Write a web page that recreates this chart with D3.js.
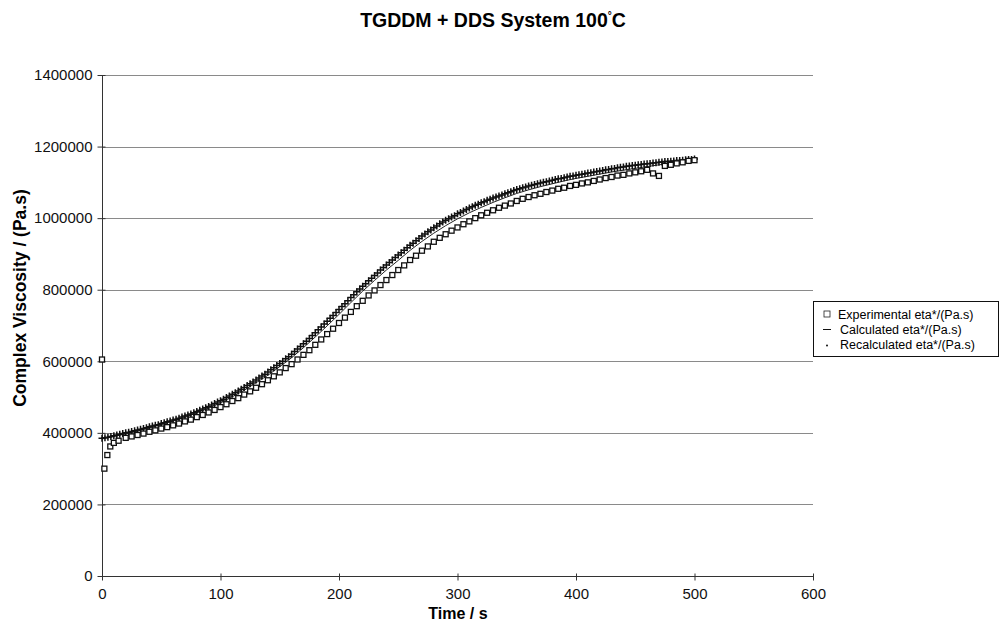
<html>
<head><meta charset="utf-8"/></head>
<script src='https://d3js.org/d3.v7.min.js'></script>
<style>
	body {margin: 0; background: #fff;}
	text {font-family: "Liberation Sans", Arial, sans-serif;}
	.grid line {stroke: #8a8a8a; stroke-width: 1;}
	.axis path, .axis line {stroke: #333;}
	.axis text {font-size: 15px; fill: #111;}
</style>
<body>
<svg width=1002 height=633></svg>
<script>

// experimental eta* (Pa.s)
var expTime = [0, 2, 4.5, 7, 10, 14].concat(d3.range(20, 501, 5));
var expEta = [605000, 300000, 338000, 362000, 372000, 378000,
	386000, 390000, 394000, 398000, 403000, 407000, 412000, 416000, 421000, 426000,
	432000, 437000, 444000, 450000, 457000, 464000, 472000, 480000, 489000, 497000,
	507000, 516000, 526000, 536000, 547000, 558000, 569000, 581000, 592000, 605000,
	618000, 631000, 646000, 661000, 676000, 691000, 707000, 722000, 738000, 754000,
	769000, 784000, 798000, 813000, 827000, 841000, 855000, 868000, 883000, 895000,
	909000, 921000, 934000, 945000, 955000, 965000, 974000, 983000, 991000, 1000000,
	1008000, 1015000, 1022000, 1029000, 1035000, 1041000, 1048000, 1054000, 1059000, 1064000,
	1068000, 1073000, 1077000, 1082000, 1085000, 1090000, 1093000, 1097000, 1100000, 1104000,
	1108000, 1112000, 1115000, 1119000, 1121000, 1125000, 1128000, 1131000, 1135000, 1125000,
	1118000, 1146000, 1149000, 1153000, 1156000, 1160000, 1162000];

// calculated eta* (line)
var calcTime = d3.range(0, 501, 10);
var calcEta = [383000, 390000, 397000, 405000, 414000, 423000, 433000, 443000, 456000, 469000,
	484000, 501000, 519000, 540000, 561000, 585000, 610000, 638000, 668000, 699000,
	731000, 764000, 796000, 826000, 855000, 882000, 910000, 935000, 958000, 979000,
	998000, 1015000, 1030000, 1044000, 1057000, 1069000, 1079000, 1088000, 1096000, 1104000,
	1111000, 1117000, 1123000, 1129000, 1134000, 1139000, 1144000, 1149000, 1153000, 1158000,
	1162000];

// recalculated eta* (crosses), in thousands
var recTime = d3.range(0, 500.1, 2.5);
var recEta = [385, 386, 388, 390, 392, 394, 396, 398, 400, 402, 404, 406, 408, 410, 412, 414,
	417, 419, 421, 423, 426, 428, 431, 433, 436, 438, 441, 444, 447, 450, 453, 456,
	460, 463, 467, 470, 474, 478, 482, 486, 490, 494, 499, 503, 508, 512, 517, 522,
	527, 532, 537, 542, 548, 553, 559, 564, 570, 576, 582, 588, 594, 600, 607, 613,
	620, 627, 634, 641, 649, 656, 664, 672, 680, 688, 696, 704, 712, 720, 728, 736,
	745, 753, 761, 769, 778, 786, 794, 802, 810, 817, 825, 832, 840, 847, 855, 862,
	869, 876, 883, 890, 897, 903, 910, 917, 924, 930, 937, 943, 950, 956, 962, 967,
	973, 978, 984, 989, 994, 998, 1003, 1007, 1012, 1016, 1020, 1024, 1028, 1032, 1036, 1039,
	1043, 1046, 1050, 1053, 1056, 1059, 1062, 1065, 1068, 1071, 1074, 1077, 1080, 1082, 1085, 1087,
	1090, 1092, 1094, 1096, 1098, 1100, 1102, 1104, 1106, 1108, 1110, 1111, 1113, 1115, 1117, 1118,
	1120, 1121, 1123, 1124, 1126, 1127, 1129, 1130, 1132, 1133, 1135, 1136, 1138, 1139, 1141, 1142,
	1143, 1145, 1146, 1147, 1148, 1149, 1150, 1151, 1152, 1153, 1154, 1155, 1156, 1157, 1158, 1158,
	1159, 1160, 1161, 1161, 1162, 1163, 1164, 1164, 1165].map(function(v) {return v * 1000;});

var xTicks = [0, 100, 200, 300, 400, 500, 600];
var yTicks = [0, 200000, 400000, 600000, 800000, 1000000, 1200000, 1400000];
var legendNames = ["Experimental eta*/(Pa.s)", "Calculated eta*/(Pa.s)", "Recalculated eta*/(Pa.s)"];

var pl = 102, pr = 813, pt = 75, pb = 576;
var x = d3.scaleLinear().domain([0, 600]).range([pl, pr]);
var y = d3.scaleLinear().domain([0, 1400000]).range([pb, pt]);

var svg = d3.select("svg");

// gridlines
svg.append("g")
	.attr("class", "grid")
	.selectAll("line")
	.data(yTicks.slice(1))
	.enter()
	.append("line")
	.attr("x1", pl).attr("x2", pr)
	.attr("y1", function(d) {return Math.round(y(d)) + 0.5;})
	.attr("y2", function(d) {return Math.round(y(d)) + 0.5;});

// axes, ticks cross the axis line like the old spreadsheet charts
svg.append("g")
	.attr("class", "axis")
	.attr("transform", "translate(0," + (pb + 0.5) + ")")
	.call(d3.axisBottom(x).tickValues(xTicks).tickSize(4).tickPadding(8).tickFormat(d3.format("d")))
	.call(function(g) {
		g.selectAll(".tick line").attr("y1", -3);
		g.select(".domain").attr("d", "M" + pl + ",0H" + pr);
	});

svg.append("g")
	.attr("class", "axis")
	.attr("transform", "translate(" + (pl + 0.5) + ",0)")
	.call(d3.axisLeft(y).tickValues(yTicks).tickSize(5).tickPadding(5).tickFormat(d3.format("d")))
	.call(function(g) {
		g.selectAll(".tick line").attr("x1", 3);
		g.select(".domain").attr("d", "M0," + pt + "V" + pb);
	});

// calculated line
var line = d3.line()
	.x(function(d, i) {return x(calcTime[i]);})
	.y(function(d) {return y(d);});

svg.append("path")
	.datum(calcEta)
	.attr("d", line)
	.attr("fill", "none")
	.attr("stroke", "#222")
	.attr("stroke-width", 1);

// recalculated crosses
var c = 3.5;
svg.append("g")
	.selectAll("path")
	.data(recEta)
	.enter()
	.append("path")
	.attr("d", function(d, i) {
		var px = x(recTime[i]), py = y(d);
		return "M" + (px - c) + "," + py + "H" + (px + c) + "M" + px + "," + (py - c) + "V" + (py + c);
	})
	.attr("stroke", "#111")
	.attr("stroke-width", 1.5);

// experimental squares
svg.append("g")
	.selectAll("rect")
	.data(expEta)
	.enter()
	.append("rect")
	.attr("x", function(d, i) {return x(expTime[i]) - 2.5;})
	.attr("y", function(d) {return y(d) - 2.5;})
	.attr("width", 5)
	.attr("height", 5)
	.attr("fill", "#fff")
	.attr("stroke", "#111")
	.attr("stroke-width", 1.3);

// title
svg.append("text")
	.attr("x", 493).attr("y", 27)
	.attr("text-anchor", "middle")
	.style("font-size", "19.5px").style("font-weight", "bold")
	.text("TGDDM + DDS System 100")
	.append("tspan").attr("dy", -8).style("font-size", "10px").text("°")
	.append("tspan").attr("dy", 8).style("font-size", "19.5px").text("C");

svg.append("text")
	.attr("x", 458).attr("y", 619)
	.attr("text-anchor", "middle")
	.style("font-size", "16px").style("font-weight", "bold")
	.text("Time / s");

svg.append("text")
	.attr("transform", "translate(26,298) rotate(-90)")
	.attr("text-anchor", "middle")
	.style("font-size", "17.5px").style("font-weight", "bold")
	.text("Complex Viscosity / (Pa.s)");

// legend
var lg = svg.append("g").attr("transform", "translate(813,301)");
lg.append("rect")
	.attr("x", 0.5).attr("y", 0.5).attr("width", 185).attr("height", 55)
	.attr("fill", "#fff").attr("stroke", "#111");

var rows = lg.selectAll(".row")
	.data(legendNames)
	.enter()
	.append("g")
	.attr("transform", function(d, i) {return "translate(0," + (13 + i * 15) + ")";});

rows.append("text")
	.attr("x", function(d, i) {return i == 0 ? 25 : 27;}).attr("y", 4.5)
	.style("font-size", "12.5px")
	.text(function(d) {return d;});

rows.filter(function(d, i) {return i == 0;})
	.append("rect")
	.attr("x", 11).attr("y", -3).attr("width", 6).attr("height", 6)
	.attr("fill", "#fff").attr("stroke", "#222").attr("stroke-width", 0.8);
rows.filter(function(d, i) {return i == 1;})
	.append("line")
	.attr("x1", 10).attr("x2", 18).attr("y1", 0.5).attr("y2", 0.5)
	.attr("stroke", "#111");
rows.filter(function(d, i) {return i == 2;})
	.append("circle")
	.attr("cx", 14).attr("cy", 1.5).attr("r", 1)
	.attr("fill", "#111");
</script>
</body>
</html>
